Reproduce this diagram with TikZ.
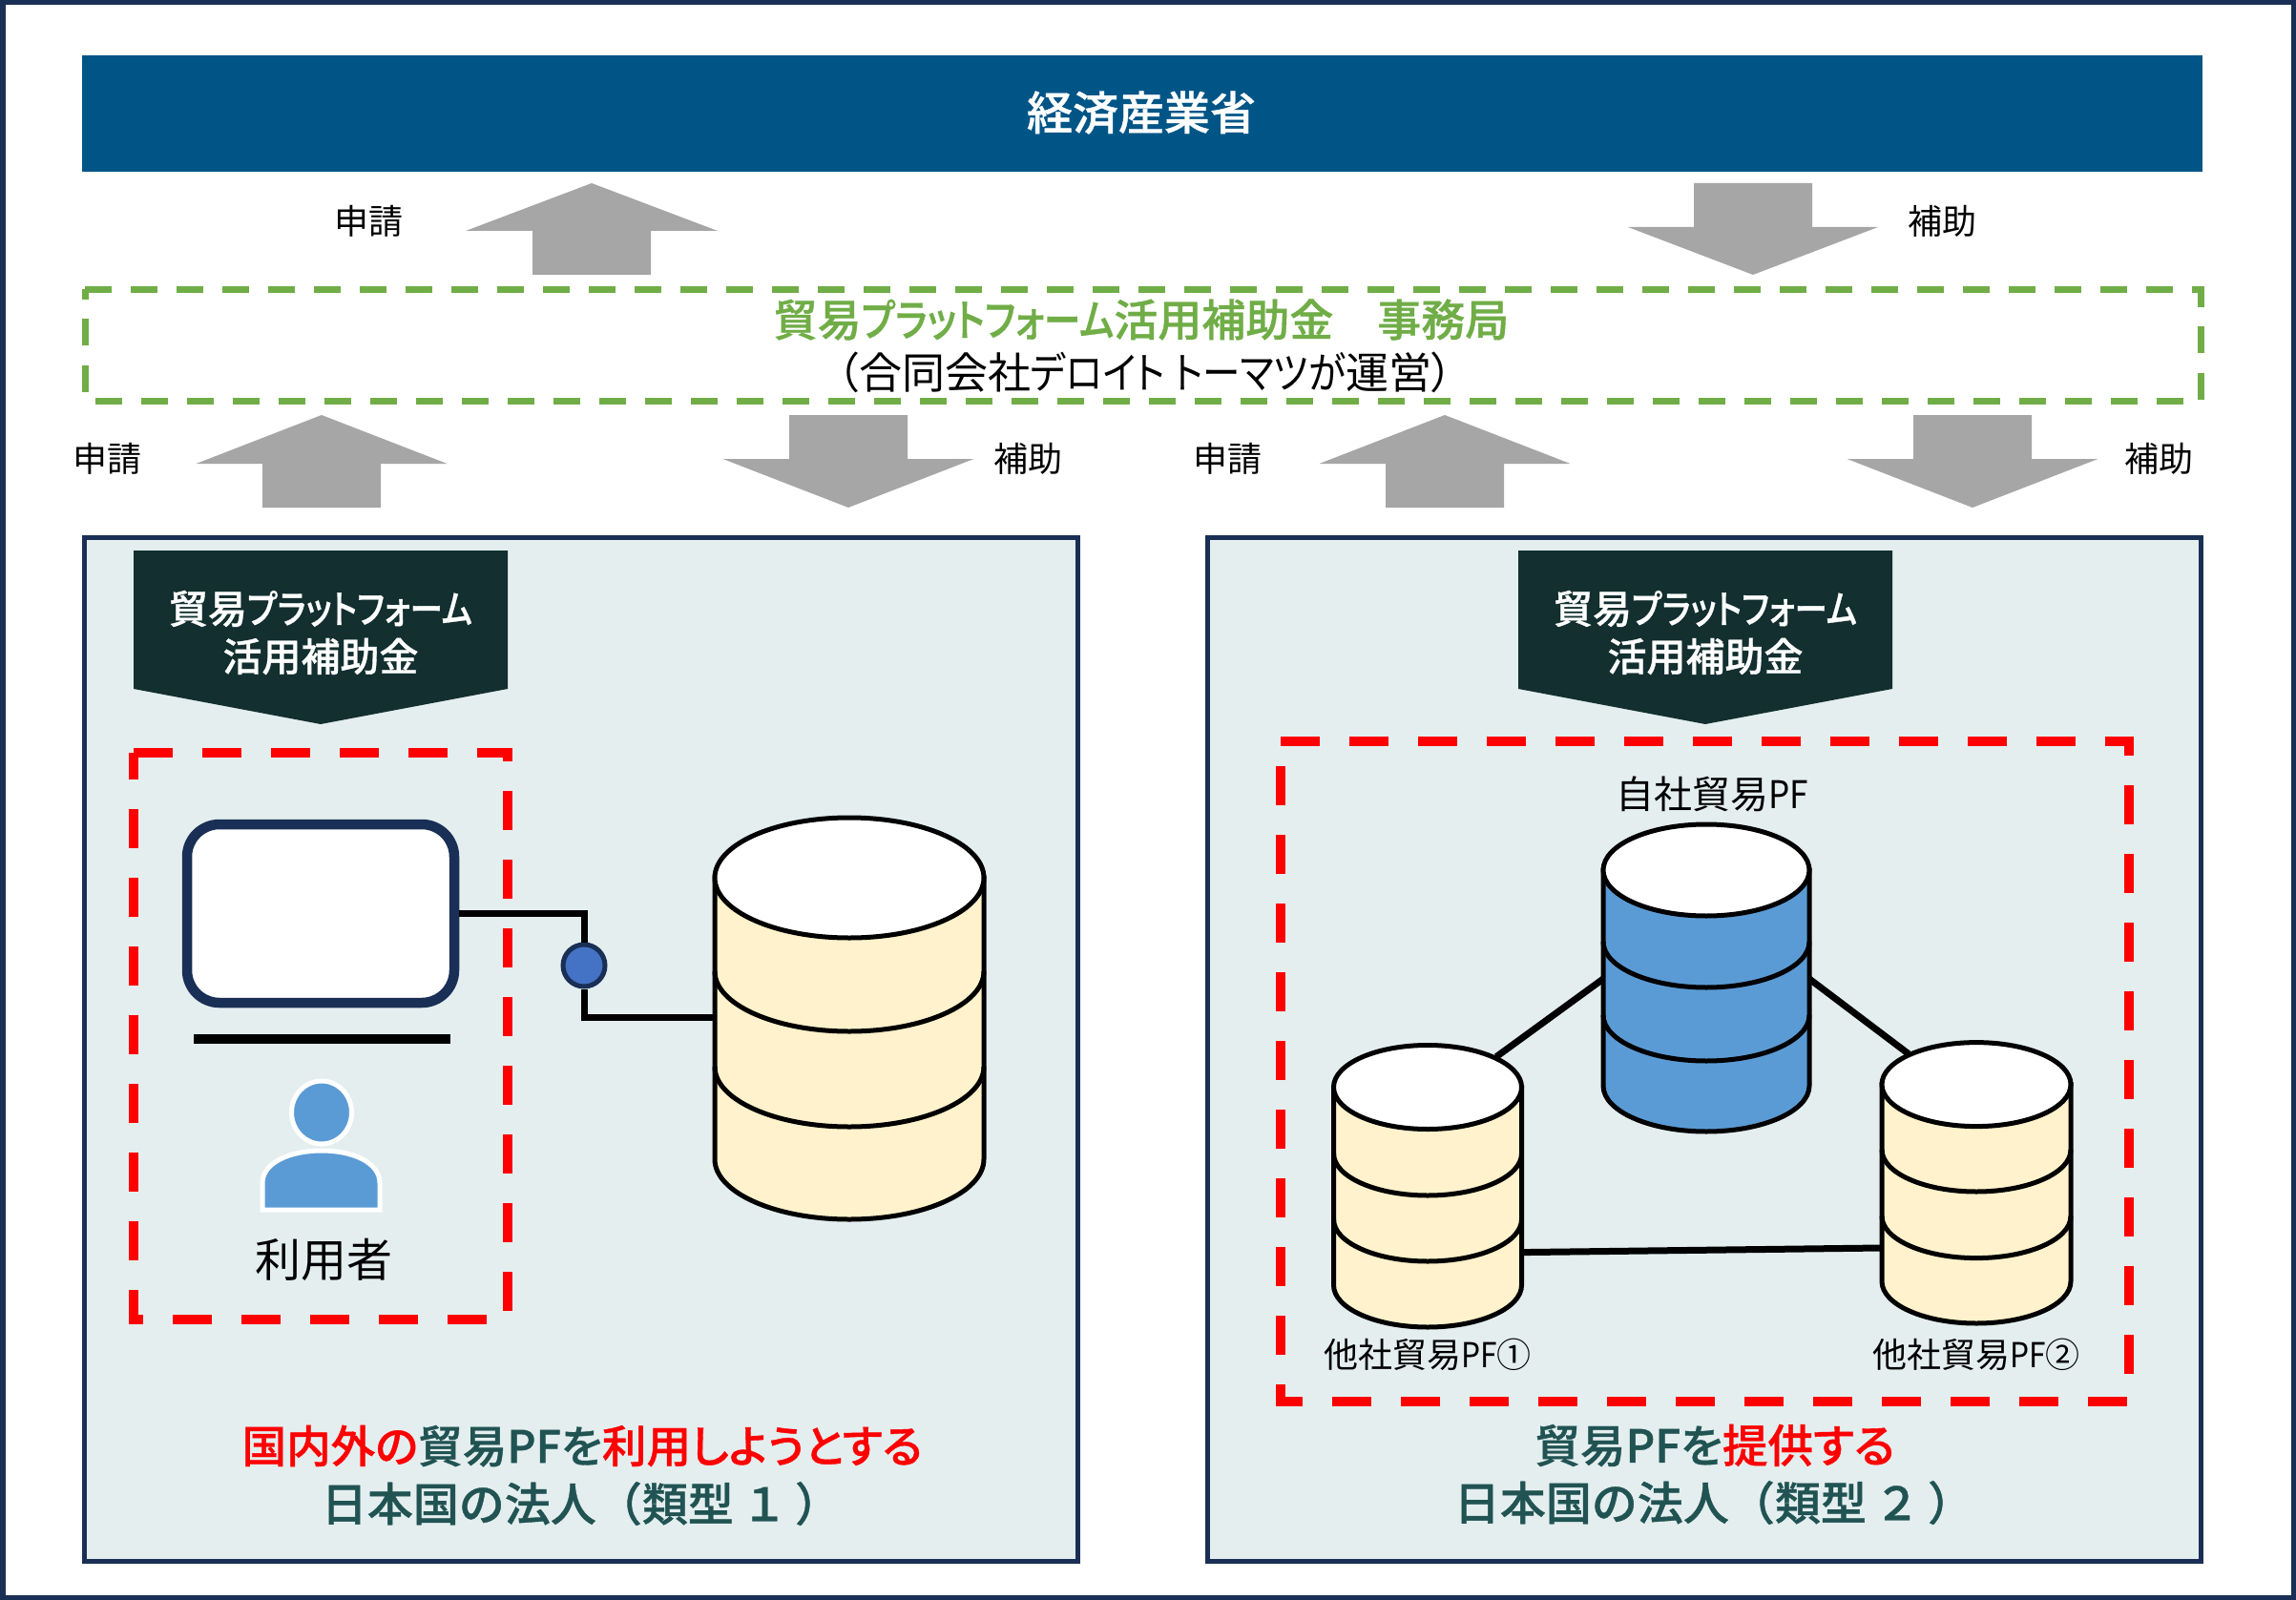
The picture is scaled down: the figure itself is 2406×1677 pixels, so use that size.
\documentclass[tikz,border=0pt]{standalone}
\usepackage{fontspec}
\usepackage{graphicx}
\newfontfamily\cjk{Noto Sans CJK JP}
\newfontfamily\cjkp[RawFeature=+palt]{Noto Sans CJK JP}
\newfontfamily\cjkm[FakeBold=0.8]{Noto Sans CJK JP Medium}
\newfontfamily\cjkmp[RawFeature=+palt,FakeBold=0.8]{Noto Sans CJK JP Medium}
\definecolor{navy}{HTML}{1A2F55}
\definecolor{barblue}{HTML}{005587}
\definecolor{gray1}{HTML}{A6A6A6}
\definecolor{greenx}{HTML}{70AD47}
\definecolor{panel}{HTML}{E4EEEF}
\definecolor{darkteal}{HTML}{132F2F}
\definecolor{tealtxt}{HTML}{215353}
\definecolor{cream}{HTML}{FFF2CC}
\definecolor{skyb}{HTML}{5B9BD5}
\definecolor{hubb}{HTML}{4472C4}
\newcommand{\fs}[1]{\fontsize{#1}{#1}\selectfont}
\newcommand{\kn}[1]{\scalebox{0.84}[1]{#1}}
\newcommand{\kq}[1]{\scalebox{0.88}[1]{#1}}
\newcommand{\pf}{\scalebox{0.88}[1]{PF}}
% cx rx top ry s1 s2 bottomside fill
\newcommand{\dbcyl}[8]{%
  \filldraw[dbline,fill=#8] (#1-#2,#3) -- (#1-#2,#7) arc[start angle=180,end angle=360,x radius=#2pt,y radius=#4pt] -- (#1+#2,#3) -- cycle;
  \draw[dbline] (#1-#2,#5) arc[start angle=180,end angle=360,x radius=#2pt,y radius=#4pt];
  \draw[dbline] (#1-#2,#6) arc[start angle=180,end angle=360,x radius=#2pt,y radius=#4pt];
  \filldraw[dbline,fill=white] (#1,#3) ellipse[x radius=#2pt,y radius=#4pt];
}
% cx halfwing halfshaft tipy wingy endy
\newcommand{\blockarrow}[6]{%
  \fill[gray1] (#1,#4) -- (#1+#2,#5) -- (#1+#3,#5) -- (#1+#3,#6) -- (#1-#3,#6) -- (#1-#3,#5) -- (#1-#2,#5) -- cycle;
}
\tikzset{
  x=1pt,y=-1pt,
  dbline/.style={draw=black,line width=5pt},
  panelbox/.style={draw=navy,fill=panel,line width=5pt},
  reddash/.style={draw=red,line width=10pt,dash pattern=on 41pt off 31pt},
  greendash/.style={draw=greenx,line width=7pt,dash pattern=on 28pt off 20pt},
  lbl/.style={inner sep=0pt,font=\cjk\fs{36},text=black},
  pflbl/.style={inner sep=0pt,font=\cjk\fs{36},text=black},
  pentatext/.style={inner sep=0pt,font=\cjkmp\fs{41},text=white,align=center},
  headtext/.style={inner sep=0pt,font=\cjkmp\fs{46.6},text=tealtxt},
  subtext/.style={inner sep=0pt,font=\cjkm\fs{48},text=tealtxt},
  conn/.style={draw=black,line width=7pt},
  monitor/.style={draw=navy,fill=white,line width=10.5pt,rounded corners=34pt,minimum width=280pt,minimum height=187pt,inner sep=0pt},
  hubnode/.style={circle,draw=navy,fill=hubb,line width=5pt,minimum size=44pt,inner sep=0pt},
}
\begin{document}
\begin{tikzpicture}
\useasboundingbox (0,0) rectangle (2406,1677);
\fill[white] (0,0) rectangle (2406,1677);
\draw[navy,line width=5.5pt] (2.75,2.75) rectangle (2403.25,1674.25);

% ministry bar
\fill[barblue] (86,58) rectangle (2308,180);
\node[inner sep=0pt,font=\cjkm\fs{48},text=white] (meti) at (1196,118) {経済産業省};

% top arrows
\blockarrow{620}{132}{62}{192}{242}{288}
\node[lbl] (apply0) at (386.5,232) {申請};
\blockarrow{1837}{131}{62}{288}{238}{192}
\node[lbl] (grant0) at (2035,232) {補助};

% secretariat
\draw[greendash] (89,303.5) -- (2306,303.5) -- (2306,420) -- (89,420) -- cycle;
\node[inner sep=0pt,font=\cjkmp\fs{46},text=greenx] (office) at (1196,335) {貿易\kn{プラットフォーム}活用補助金　事務局};
\node[inner sep=0pt,font=\cjkp\fs{45},text=black] (operator) at (1200,390) {（合同会社\kq{デロイト トーマツが}運営）};

% second row arrows
\blockarrow{337}{131.5}{62}{435}{486}{532}
\node[lbl] (apply1) at (112.5,481) {申請};
\blockarrow{889}{131.5}{62}{532}{481}{435}
\node[lbl] (grant1) at (1077,481) {補助};
\blockarrow{1514}{131.5}{62}{435}{486}{532}
\node[lbl] (apply2) at (1286,481) {申請};
\blockarrow{2067}{131.5}{62}{532}{481}{435}
\node[lbl] (grant2) at (2262,481) {補助};

% panels
\draw[panelbox] (88,563) rectangle (1129,1636);
\draw[panelbox] (1265,563) rectangle (2306,1636);

% pentagon banners
\fill[darkteal] (140,577) -- (532,577) -- (532,722) -- (336,759) -- (140,722) -- cycle;
\node[pentatext] (banner1a) at (336,638) {貿易\kn{プラットフォーム}};
\node[pentatext] (banner1b) at (336,688) {活用補助金};
\fill[darkteal] (1591,577) -- (1983,577) -- (1983,722) -- (1787,759) -- (1591,722) -- cycle;
\node[pentatext] (banner2a) at (1787,638) {貿易\kn{プラットフォーム}};
\node[pentatext] (banner2b) at (1787,688) {活用補助金};

% red dashed frames
\draw[reddash] (140,789) -- (532,789) -- (532,1383) -- (140,1383) -- cycle;
\draw[reddash] (1341.5,776.5) -- (2231,776.5) -- (2231,1468.5) -- (1341.5,1468.5) -- cycle;

% left panel: user terminal
\node[monitor] (term) at (336,957.5) {};
\draw[black,line width=10pt] (203,1089) -- (472,1089);
\fill[skyb,draw=white,line width=5pt] (337,1166) ellipse[x radius=31.5pt,y radius=33pt];
\fill[skyb,draw=white,line width=5pt] (275,1268) -- (275,1240) .. controls (275,1218) and (305,1206) .. (337,1206) .. controls (369,1206) and (398,1218) .. (398,1240) -- (398,1268) -- cycle;
\node[inner sep=0pt,font=\cjk\fs{48},text=black] (user) at (339,1320) {利用者};

\coordinate (dbmainw) at (749,1066);
\node[hubnode] (hub) at (612,1012) {};
\draw[conn] (term.east) -| (hub.north);
\draw[conn] (hub.south) |- (dbmainw);
\dbcyl{890}{141}{920}{63}{1018}{1118}{1215}{cream}

% right panel: networked PFs
\coordinate (ownw) at (1680,1026);
\coordinate (owne) at (1896,1026);
\coordinate (oth1t) at (1568,1107.6);
\coordinate (oth2t) at (2000,1104.6);
\coordinate (oth1e) at (1595,1312.6);
\coordinate (oth2w) at (1971.5,1308);
\draw[conn] (ownw) -- (oth1t);
\draw[conn] (owne) -- (oth2t);
\draw[conn] (oth1e) -- (oth2w);
\dbcyl{1788}{108}{912}{48}{987}{1064}{1138}{skyb}
\dbcyl{1496}{98.5}{1139.5}{44}{1209}{1278}{1347}{cream}
\dbcyl{2071}{99}{1136.6}{44}{1205}{1274.6}{1343}{cream}
\node[pflbl,font=\cjk\fs{40}] (own) at (1794,832.6) {自社貿易\pf};
\node[pflbl] (other1) at (1496,1420) {他社貿易\pf①};
\node[pflbl] (other2) at (2071,1420) {他社貿易\pf②};

% captions
\node[headtext] (cap1a) at (610,1515.5) {\textcolor{red}{国内外の}貿易PFを\textcolor{red}{利用しようとする}};
\node[subtext] (cap1b) at (609,1576) {日本国の法人（類型\hspace{.17em}１\hspace{.17em}）};
\node[headtext,font=\cjkmp\fs{47.5}] (cap2a) at (1797,1515) {貿易PFを\textcolor{red}{提供する}};
\node[subtext] (cap2b) at (1796,1575) {日本国の法人（類型\hspace{.17em}２\hspace{.17em}）};
\end{tikzpicture}
\end{document}
